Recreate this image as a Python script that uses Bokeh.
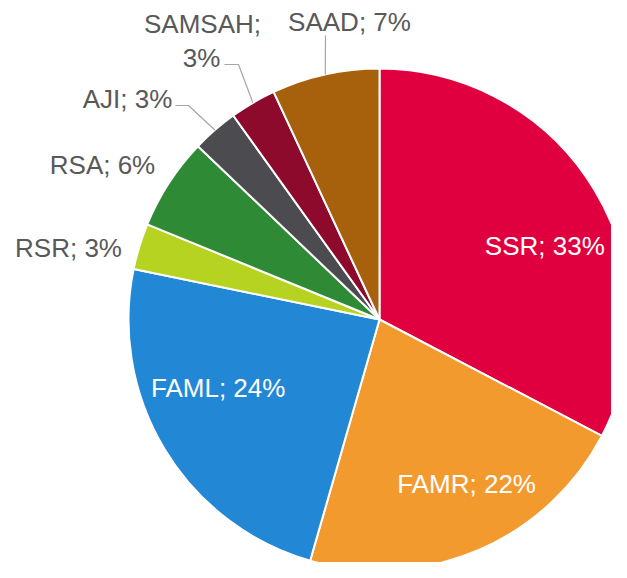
import numpy as np
from bokeh.plotting import figure
from bokeh.models import ColumnDataSource, Range1d
from bokeh.core.properties import value
from bokeh.embed import file_html
from bokeh.resources import INLINE

# ---- data ----
categories = ["SSR", "FAMR", "FAML", "RSR", "RSA", "AJI", "SAMSAH", "SAAD"]
shares = [33, 22, 24, 3, 6, 3, 3, 7]
colors = ["#E0003F", "#F39A2E", "#2287D5", "#B5D320", "#2F8A36", "#4B4B50", "#8E0A2D", "#A7600B"]

# ---- layout (screen pixels) ----
W, H = 611, 562
CX, CY, R = 379, 319, 251


def sy(y):
    return 578 - y


vals = np.array(shares, dtype=float)
frac = vals / vals.sum()
cum_end = np.cumsum(frac)
cum_start = cum_end - frac
start = np.pi / 2 - 2 * np.pi * cum_start
end = np.pi / 2 - 2 * np.pi * cum_end
mid = (start + end) / 2

p = figure(width=W, height=H, output_backend="svg", toolbar_location=None,
           x_range=Range1d(0, W), y_range=Range1d(578 - H, 578),
           min_border=0, outline_line_color=None)
p.axis.visible = False
p.grid.visible = False
p.background_fill_color = "white"
p.border_fill_color = "white"

src = ColumnDataSource(dict(start=start, end=end, color=colors, cat=categories))
p.wedge(x=CX, y=sy(CY), radius=R, start_angle="start", end_angle="end",
        direction="clock", fill_color="color", line_color="white", line_width=2,
        source=src)

# label positions
inside = {"SSR": (15, 17), "FAMR": (18, 3), "FAML": (-11, -22)}
lx, ly, lt, lc = [], [], [], []
for i, c in enumerate(categories):
    pct = f"{c}; {shares[i]}%"
    if c in inside:
        ox, oy = inside[c]
        x = CX + 0.7 * R * np.cos(mid[i]) + ox
        y = CY - 0.7 * R * np.sin(mid[i]) + oy
        lx.append(x); ly.append(sy(y)); lt.append(pct); lc.append("white")

outside_pos = {"SAAD": (349, 21), "AJI": (127, 98), "RSA": (102, 164), "RSR": (68, 247)}
for i, c in enumerate(categories):
    if c in outside_pos:
        x, y = outside_pos[c]
        lx.append(x); ly.append(sy(y)); lt.append(f"{c}; {shares[i]}%"); lc.append("#595959")
    if c == "SAMSAH":
        lx += [202, 201]; ly += [sy(23), sy(57)]; lt += [f"{c};", f"{shares[i]}%"]
        lc += ["#595959", "#595959"]

tsrc = ColumnDataSource(dict(x=lx, y=ly, text=lt, color=lc))
p.text(x="x", y="y", text="text", text_color="color", source=tsrc,
       text_font=value("Liberation Sans"), text_font_size="26px",
       text_align="center", text_baseline="middle")

# leader lines from slice edge
leaders = {"SAAD": [(325, 35)], "SAMSAH": [(238, 64), (224, 64)], "AJI": [(188, 105), (175, 105)]}
for i, c in enumerate(categories):
    if c in leaders:
        ex = CX + R * np.cos(mid[i])
        ey = CY - R * np.sin(mid[i])
        xs = [ex] + [pt[0] for pt in leaders[c]]
        ys = [sy(ey)] + [sy(pt[1]) for pt in leaders[c]]
        p.line(xs, ys, line_color="#A6A6A6", line_width=1.2)

open("out.html", "w").write(file_html(p, INLINE))
